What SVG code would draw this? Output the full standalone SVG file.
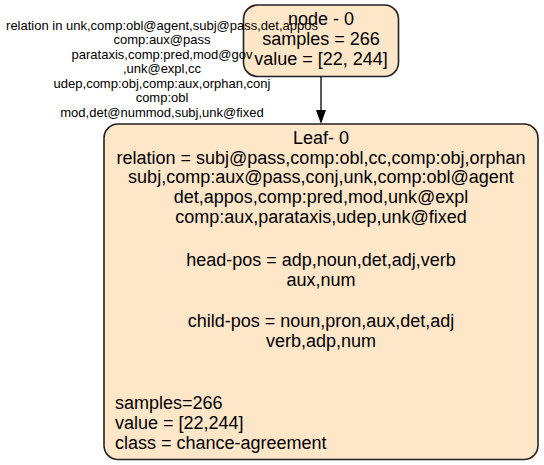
<svg xmlns="http://www.w3.org/2000/svg" width="544" height="465" viewBox="0 0 544 465">
<style>
.box{fill:#fee6c9;stroke:#222;stroke-width:1.6}
.t{font-family:"Liberation Sans",Arial,Helvetica,sans-serif;font-size:18px;fill:#000}
.c{text-anchor:middle}
.el{font-family:"Liberation Sans",Arial,Helvetica,sans-serif;font-size:13px;fill:#000;text-anchor:middle}
.edge{stroke:#000;stroke-width:1.3;fill:none}
</style>
<defs>
<marker id="arr" markerWidth="10" markerHeight="14" refX="10" refY="5" orient="auto" markerUnits="userSpaceOnUse" viewBox="0 0 10 10">
<path d="M0,0 L10,5 L0,10 Z" fill="#000"/>
</marker>
</defs>
<rect width="544" height="465" fill="#fff"/>
<g id="node0">
<rect class="box" x="243.5" y="5" width="155" height="71.5" rx="14" ry="14"/>
<text class="t c" x="321" y="25">node - 0</text>
<text class="t c" x="321" y="45">samples = 266</text>
<text class="t c" x="321" y="65">value = [22, 244]</text>
</g>
<g id="connectors">
<path class="edge" d="M321,76.5 L321,112"/>
<path d="M316,110 L326,110 L321,124 Z" fill="#000"/>
<text class="el" x="162" y="30">relation in unk,comp:obl@agent,subj@pass,det,appos</text>
<text class="el" x="162" y="44.4">comp:aux@pass</text>
<text class="el" x="162" y="58.9">parataxis,comp:pred,mod@gov</text>
<text class="el" x="162" y="73.3">,unk@expl,cc</text>
<text class="el" x="162" y="87.8">udep,comp:obj,comp:aux,orphan,conj</text>
<text class="el" x="162" y="102.2">comp:obl</text>
<text class="el" x="162" y="116.7">mod,det@nummod,subj,unk@fixed</text>
</g>
<g id="leaf0">
<rect class="box" x="104" y="124" width="434" height="335.5" rx="14" ry="14"/>
<text class="t c" x="321" y="144">Leaf- 0</text>
<text class="t c" x="321" y="163.5">relation = subj@pass,comp:obl,cc,comp:obj,orphan</text>
<text class="t c" x="321" y="183.3">subj,comp:aux@pass,conj,unk,comp:obl@agent</text>
<text class="t c" x="321" y="203.2">det,appos,comp:pred,mod,unk@expl</text>
<text class="t c" x="321" y="223">comp:aux,parataxis,udep,unk@fixed</text>
<text class="t c" x="321" y="265.7">head-pos = adp,noun,det,adj,verb</text>
<text class="t c" x="321" y="285.6">aux,num</text>
<text class="t c" x="321" y="326.8">child-pos = noun,pron,aux,det,adj</text>
<text class="t c" x="321" y="346.7">verb,adp,num</text>
<text class="t" x="115" y="409">samples=266</text>
<text class="t" x="115" y="429">value = [22,244]</text>
<text class="t" x="115" y="449">class = chance-agreement</text>
</g>
</svg>
